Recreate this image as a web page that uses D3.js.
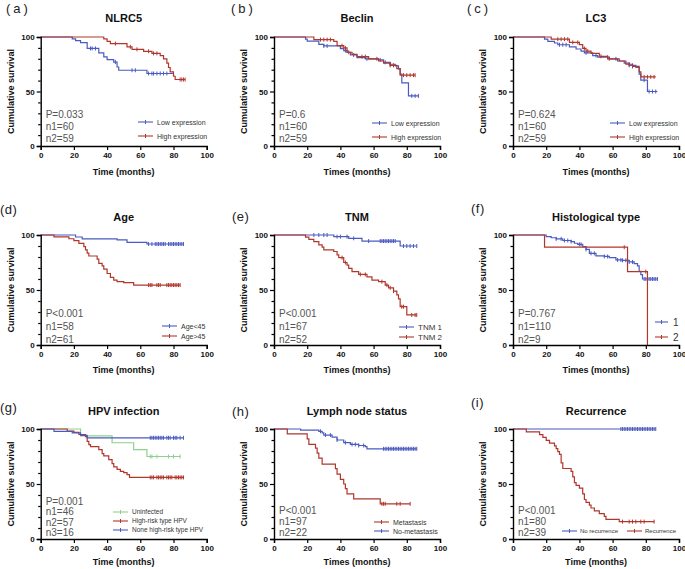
<!DOCTYPE html>
<html><head><meta charset="utf-8">
<script src="https://cdn.jsdelivr.net/npm/d3@7"></script>
<style>body{margin:0;background:#fff}svg{display:block;font-family:Arial,"Liberation Sans",sans-serif}</style>
</head><body><svg id="c" width="685" height="569"></svg>
<script>
// ---------------- DATA ----------------
const xTicks = [0, 20, 40, 60, 80, 100];
const yTicks = [0, 50, 100];
const yMinorTicks = [10, 20, 30, 40, 60, 70, 80, 90];

// (a) NLRC5
const nlrc5LowT = [0,19,21,24,28,35,38,40,44,46,47,64];
const nlrc5LowS = [100,98.3,96.6,94.9,89.5,85.5,81.7,79.3,77,72.5,69.5,66.5];
const nlrc5LowEnd = 80;
const nlrc5LowCens = [30,31,33,45,55,57,65,67,68,70,72,74,76];
const nlrc5HighT = [0,38,40,42,52,55,62,67,72,74,76,77,78,80,81];
const nlrc5HighS = [100,98.3,96,94,91,88.7,86.9,85,83,80,76,72,68,64,61];
const nlrc5HighEnd = 87;
const nlrc5HighCens = [45,54,58,65,68,70,84,85,86,87];

// (b) Beclin
const beclinLowT = [0,19,20,27,30,40,42,44,46,50,55,63,66,70,73,75,76,77,81];
const beclinLowS = [100,98,96.3,93.3,91.8,89.3,87.5,86,83.5,81.1,80,79,76.8,75,73.5,70.7,66,58,46];
const beclinLowEnd = 87;
const beclinLowCens = [30,32,43,48,56,64,67,70,83,85,87];
const beclinHighT = [0,24,36,38,42,44,47,50,57,63,66,70,74,76];
const beclinHighS = [100,97.6,96,92,90,86,84,82,80,78,76,74,71,65];
const beclinHighEnd = 85;
const beclinHighCens = [28,30,32,34,41,43,45,53,55,62,70,72,78,80,82,84,85];

// (c) LC3
const lc3LowT = [0,19,21,25,27,34,38,41,43,48,51,58,63,67,70,74,76,77,81];
const lc3LowS = [100,98,96,94.5,92.9,91,89,87,85.5,83,81.5,80,78,76,74,72,66,60.4,50];
const lc3LowEnd = 87;
const lc3LowCens = [28,30,32,44,50,57,62,70,72,79,82,84,86];
const lc3HighT = [0,23,34,40,42,44,47,52,57,64,68,72,76,77];
const lc3HighS = [100,98,95,93,89.5,87,85,82.3,80,78,75,73,68,63.4];
const lc3HighEnd = 86;
const lc3HighCens = [27,29,31,33,36,39,43,45,53,58,70,72,79,81,83,85];

// (d) Age
const ageYoungT = [0,21,25,46,52,64];
const ageYoungS = [100,98.2,96.4,95.5,93.3,91.8];
const ageYoungEnd = 86;
const ageYoungCens = [65,67,69,70,71,72,73,74,75,77,78,79,80,81,82,83,84,85,86];
const ageOldT = [0,8,17,20,23,26,27,28,29,34,35,37,38,40,42,44,46,50,56];
const ageOldS = [100,98.3,96.6,94.8,92.4,89.4,86.4,83.5,80.9,78,74.2,72,69,65,61.5,59,57.6,56.7,54.5];
const ageOldEnd = 84;
const ageOldCens = [65,66,67,70,71,72,76,77,78,79,80,81,82,83,84];

// (e) TNM
const tnm1T = [0,36,45,53,76];
const tnm1S = [100,98.5,97,94.5,90];
const tnm1End = 86;
const tnm1Cens = [24,27,30,32,38,40,44,48,57,64,65,66,67,68,69,70,71,72,73,78,80,82,84,86];
const tnm2T = [0,19,21,24,27,29,30,36,38,39,42,44,45,47,51,56,59,63,67,69,72,74,75,76,80];
const tnm2S = [100,98,96,94,91,89,86.4,85,82,79.4,75,72.7,69.7,66.7,64.2,62,59,57.6,54.5,52,49,45.5,42,34.8,27.3];
const tnm2End = 86;
const tnm2Cens = [41,43,52,55,65,68,70,72,77,78,83,85,86];

// (f) Histological type
const histo1T = [0,20,23,26,30,35,37,39,42,44,46,50,55,58,62,66,70,73,75,76,77,78];
const histo1S = [100,98.5,97.5,96.5,95,94,92.5,91.5,89.4,86.9,83.3,81,80.5,79.5,77.3,77,75.5,74,72,67,64,60];
const histo1End = 87;
const histo1Cens = [26,29,31,33,35,40,41,44,47,49,55,57,63,65,66,68,70,72,79,80,81,82,83,84,85,86,87];
const histo2T = [0,19,69,81];
const histo2S = [100,88.9,66.7,0];
const histo2End = 81;
const histo2Cens = [67,80];

// (g) HPV infection
const hpvUninfT = [0,24,43,56,64];
const hpvUninfS = [100,93.75,87.5,81.25,75];
const hpvUninfEnd = 84;
const hpvUninfCens = [66,67,70,77,80,84];
const hpvHighT = [0,16,20,23,27,28,29,30,35,37,38,41,43,44,46,48,50,52,53.5];
const hpvHighS = [100,98,97,95,93,88.8,85.8,84,81.2,77.6,75.5,72.1,68.5,65.5,63.3,61.5,60.3,58.5,56];
const hpvHighEnd = 86;
const hpvHighCens = [66,67,68,70,71,72,73,74,76,77,78,79,81,82,83,84,85,86];
const hpvNoneT = [0,8,19,24,28];
const hpvNoneS = [100,97.9,96.4,94.2,92];
const hpvNoneEnd = 86;
const hpvNoneCens = [66,67,68,69,70,71,72,73,74,76,77,78,80,81,82,84,86];

// (h) Lymph node status
const lnMetT = [0,8,20,21,25,26,27,29,37,38,40,42,43,44,48,64];
const lnMetS = [100,95.5,91,86,82.7,78,73.6,68,63.9,59,54.2,50,45.8,41,36.5,32];
const lnMetEnd = 82;
const lnMetCens = [65,66,67,74,76,82];
const lnNoMetT = [0,16,27,29,30,35,38,42,46,51,55,56];
const lnNoMetS = [100,99,97.9,96.5,94.5,92.7,90,87.6,86,85,84,82];
const lnNoMetEnd = 86;
const lnNoMetCens = [28,31,34,38,43,47,49,51,54,66,67,68,69,70,71,72,73,74,75,76,77,78,79,80,81,82,83,84,85,86];

// (i) Recurrence
const recNoT = [0];
const recNoS = [100];
const recNoEnd = 86;
const recNoCens = [65,66,67,68,69,70,71,72,73,74,75,76,77,78,79,80,81,82,83,84,85,86];
const recYesT = [0,8,16,18,20,22,25,26,27,28,29,30,35,36,37,38,40,42,43,44,46,47,49,52,55,56,64];
const recYesS = [100,97.4,94.9,92.3,89.7,87.2,84.6,82.1,79.5,76.9,69.2,64.1,61.5,56.4,51.3,48.7,46.2,41,35.9,33.3,30.8,28.2,25.6,23.1,20.5,17.9,15.8];
const recYesEnd = 85;
const recYesCens = [66,70,72,74,77,79,85];

// ---------------- STYLE / LAYOUT ----------------
const BLUE = "#4a5bbf", RED = "#b0372c", GREEN = "#8fcf8f";
const colX = [40.7, 274, 513];
const rowY = [[37, 146], [235, 345], [429, 539]];
const plotW = 166;
const titleBase = [22, 221, 415];
const xLabelBase = [175, 373, 565];

const panels = [
 {col:0,row:0,letter:"(a)",lx:6,ly:13,title:"NLRC5",xlab:"Time (months)",
  stats:["P=0.033","n1=60","n2=59"],statY:[114,126,138],
  curves:[[nlrc5LowT,nlrc5LowS,nlrc5LowEnd,nlrc5LowCens,BLUE],[nlrc5HighT,nlrc5HighS,nlrc5HighEnd,nlrc5HighCens,RED]],
  legend:{x:138,ys:[122,136],fs:7,items:[["Low expression",BLUE],["High expression",RED]]}},
 {col:1,row:0,letter:"(b)",lx:231,ly:13,title:"Beclin",xlab:"Times (months)",
  stats:["P=0.6","n1=60","n2=59"],statY:[114,126,138],
  curves:[[beclinLowT,beclinLowS,beclinLowEnd,beclinLowCens,BLUE],[beclinHighT,beclinHighS,beclinHighEnd,beclinHighCens,RED]],
  legend:{x:372,ys:[123,137],fs:7,items:[["Low expression",BLUE],["High expression",RED]]}},
 {col:2,row:0,letter:"(c)",lx:467,ly:13,title:"LC3",xlab:"Times (months)",
  stats:["P=0.624","n1=60","n2=59"],statY:[114,126,138],
  curves:[[lc3LowT,lc3LowS,lc3LowEnd,lc3LowCens,BLUE],[lc3HighT,lc3HighS,lc3HighEnd,lc3HighCens,RED]],
  legend:{x:610,ys:[123,137],fs:7,items:[["Low expression",BLUE],["High expression",RED]]}},
 {col:0,row:1,letter:"(d)",lx:0,ly:214,ls:0,title:"Age",xlab:"Time (months)",
  stats:["P<0.001","n1=58","n2=61"],statY:[313,326,339],
  curves:[[ageYoungT,ageYoungS,ageYoungEnd,ageYoungCens,BLUE],[ageOldT,ageOldS,ageOldEnd,ageOldCens,RED]],
  legend:{x:162,ys:[326,336],fs:7,items:[["Age<45",BLUE],["Age>45",RED]]}},
 {col:1,row:1,letter:"(e)",lx:232,ly:221,ls:0,title:"TNM",xlab:"Times (months)",
  stats:["P<0.001","n1=67","n2=52"],statY:[313,326,339],
  curves:[[tnm1T,tnm1S,tnm1End,tnm1Cens,BLUE],[tnm2T,tnm2S,tnm2End,tnm2Cens,RED]],
  legend:{x:399,ys:[327,337],fs:8,items:[["TNM 1",BLUE],["TNM 2",RED]]}},
 {col:2,row:1,letter:"(f)",lx:471,ly:213,ls:0,title:"Histological type",xlab:"Times (months)",
  stats:["P=0.767","n1=110","n2=9"],statY:[313,326,339],
  curves:[[histo1T,histo1S,histo1End,histo1Cens,BLUE],[histo2T,histo2S,histo2End,histo2Cens,RED]],
  legend:{x:655,ys:[322,337],fs:10,gap:5,items:[["1",BLUE],["2",RED]]}},
 {col:0,row:2,letter:"(g)",lx:0,ly:412,ls:0,title:"HPV infection",xlab:"Time (months)",
  stats:["P=0.001","n1=46","n2=57","n3=16"],statY:[501,511.5,522,532],
  curves:[[hpvUninfT,hpvUninfS,hpvUninfEnd,hpvUninfCens,GREEN],[hpvHighT,hpvHighS,hpvHighEnd,hpvHighCens,RED],[hpvNoneT,hpvNoneS,hpvNoneEnd,hpvNoneCens,BLUE]],
  legend:{x:113,ys:[512,521,530],fs:6.5,items:[["Uninfected",GREEN],["High-risk type HPV",RED],["None high-risk type HPV",BLUE]]}},
 {col:1,row:2,letter:"(h)",lx:232,ly:416,ls:0,title:"Lymph node status",xlab:"Times (months)",
  stats:["P<0.001","n1=97","n2=22"],statY:[510,521,532],
  curves:[[lnNoMetT,lnNoMetS,lnNoMetEnd,lnNoMetCens,BLUE],[lnMetT,lnMetS,lnMetEnd,lnMetCens,RED]],
  legend:{x:374,ys:[522,531],fs:7,items:[["Metastasis",RED],["No-metastasis",BLUE]]}},
 {col:2,row:2,letter:"(i)",lx:471,ly:407,ls:0,title:"Recurrence",xlab:"Time (months)",
  stats:["P<0.001","n1=80","n2=39"],statY:[510,521,532],
  curves:[[recNoT,recNoS,recNoEnd,recNoCens,BLUE],[recYesT,recYesS,recYesEnd,recYesCens,RED]],
  legend:{horiz:true,xs:[562,627],y:531,fs:6,items:[["No recurrence",BLUE],["Recurrence",RED]]}}
];

// ---------------- DRAW ----------------
const svg = d3.select("#c");
svg.append("rect").attr("width",685).attr("height",569).attr("fill","#fff");

function stepVal(T,S,t){let v=S[0];for(let i=0;i<T.length;i++){if(T[i]<=t)v=S[i];}return v;}

panels.forEach(p=>{
  const x0 = colX[p.col], [yt, yb] = rowY[p.row];
  const x = d3.scaleLinear().domain([0,100]).range([x0, x0+plotW]);
  const y = d3.scaleLinear().domain([0,100]).range([yb, yt]);
  const g = svg.append("g");

  g.append("text").attr("x",p.lx).attr("y",p.ly).attr("font-size",13)
   .attr("letter-spacing", p.ls===0?0.5:3).attr("fill","#222").text(p.letter);
  g.append("text").attr("x",x0+plotW/2).attr("y",titleBase[p.row]).attr("text-anchor","middle")
   .attr("font-size",11).attr("font-weight","bold").attr("fill","#111").text(p.title);

  const line = d3.line().x(d=>x(d[0])).y(d=>y(d[1])).curve(d3.curveStepAfter);
  p.curves.forEach(([T,S,end,cens,col])=>{
    const pts = T.map((t,i)=>[t,S[i]]);
    pts.push([end,S[S.length-1]]);
    g.append("path").attr("d",line(pts)).attr("fill","none").attr("stroke",col).attr("stroke-width",1.2);
    cens.forEach(c=>{
      const v = stepVal(T,S,c);
      g.append("line").attr("x1",x(c)).attr("x2",x(c)).attr("y1",y(v)-2).attr("y2",y(v)+2)
       .attr("stroke",col).attr("stroke-width",1);
    });
  });

  const xa = g.append("g").attr("transform",`translate(0,${yb})`)
    .call(d3.axisBottom(x).tickValues(xTicks).tickSize(4).tickPadding(2));
  const ya = g.append("g").attr("transform",`translate(${x0},0)`)
    .call(d3.axisLeft(y).tickValues(yTicks).tickSize(4).tickPadding(2));
  const ym = g.append("g").attr("transform",`translate(${x0},0)`)
    .call(d3.axisLeft(y).tickValues(yMinorTicks).tickSize(2.5).tickFormat(""));
  [xa,ya,ym].forEach(a=>{
    a.select(".domain").attr("stroke","#000").attr("stroke-width",1.4);
    a.selectAll(".tick line").attr("stroke","#000").attr("stroke-width",1.2);
    a.selectAll(".tick text").attr("font-size",8).attr("font-weight","bold").attr("fill","#111")
      .attr("font-family","Arial, Liberation Sans, sans-serif");
  });
  ym.select(".domain").remove();

  g.append("text").attr("x",x0+plotW/2).attr("y",xLabelBase[p.row]).attr("text-anchor","middle")
   .attr("font-size",9).attr("font-weight","bold").attr("fill","#111").text(p.xlab);
  g.append("text").attr("transform",`translate(${x0-27},${(yt+yb)/2}) rotate(-90)`)
   .attr("text-anchor","middle").attr("font-size",9).attr("font-weight","bold").attr("fill","#111")
   .text("Cumulative survival");

  p.stats.forEach((s,i)=>{
    g.append("text").attr("x",x0+5).attr("y",p.statY[i]+3.5).attr("font-size",10)
     .attr("fill","#555").text(s);
  });

  const L = p.legend;
  if(L.horiz){
    L.items.forEach(([lab,col],i)=>{
      const lx=L.xs[i];
      g.append("line").attr("x1",lx).attr("x2",lx+15).attr("y1",L.y).attr("y2",L.y).attr("stroke",col).attr("stroke-width",1.1);
      g.append("line").attr("x1",lx+7.5).attr("x2",lx+7.5).attr("y1",L.y-2).attr("y2",L.y+2).attr("stroke",col).attr("stroke-width",1);
      g.append("text").attr("x",lx+18).attr("y",L.y+2.2).attr("font-size",L.fs).attr("fill","#333").text(lab);
    });
  } else {
    L.items.forEach(([lab,col],i)=>{
      const ly=L.ys[i], lx=L.x, len=L.gap?13:15;
      g.append("line").attr("x1",lx).attr("x2",lx+len).attr("y1",ly).attr("y2",ly).attr("stroke",col).attr("stroke-width",1.1);
      g.append("line").attr("x1",lx+len/2).attr("x2",lx+len/2).attr("y1",ly-2).attr("y2",ly+2).attr("stroke",col).attr("stroke-width",1);
      g.append("text").attr("x",lx+len+(L.gap||4)).attr("y",ly+L.fs*0.36).attr("font-size",L.fs).attr("fill","#333").text(lab);
    });
  }
});
</script></body></html>
